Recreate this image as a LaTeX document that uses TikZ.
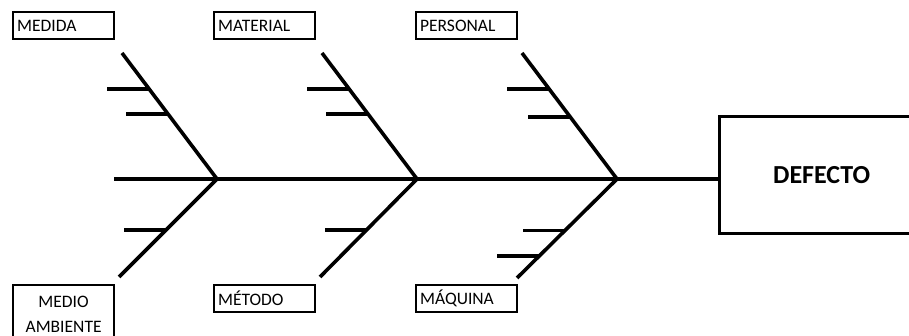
\documentclass[tikz,border=0pt]{standalone}
\usepackage{fontspec}
\setmainfont{Carlito}
\usetikzlibrary{calc}
\begin{document}
\begin{tikzpicture}[x=1pt,y=-1pt,
  bone/.style={line width=3.6pt},
  lbl/.style={draw, line width=2.2pt, anchor=north west, minimum width=101pt, minimum height=27pt,
    text width=93pt, inner xsep=4pt, inner ysep=0pt, align=left, font=\fontsize{17.5}{20}\selectfont},
  effect/.style={draw, line width=3.2pt, anchor=north west, minimum width=204pt, minimum height=117pt,
    font=\fontsize{26}{30}\selectfont\bfseries}]
\clip (0,0) rectangle (909,336);
\fill[white] (0,0) rectangle (909,336);
% labels
\node[lbl] (medida) at (12,11) {MEDIDA};
\node[lbl] (material) at (213,11) {MATERIAL};
\node[lbl] (personal) at (415,11) {PERSONAL};
\node[lbl, minimum height=58pt, align=center, font=\fontsize{17.5}{25}\selectfont] (medio) at (12,284) {MEDIO\\AMBIENTE};
\node[lbl] (metodo) at (213,284) {MÉTODO};
\node[lbl] (maquina) at (415,284) {MÁQUINA};
\node[effect] (defecto) at (718,115) {DEFECTO};
% spine
\coordinate (tail) at (114,179);
\coordinate (j1) at (217,179);
\coordinate (j2) at (417,179);
\coordinate (j3) at (617,179);
\draw[bone] (tail) -- (defecto.west |- tail);
% top bones
\coordinate (t1) at (122,53);
\coordinate (t2) at (322,53);
\coordinate (t3) at (522,53);
\draw[bone] (t1) -- (j1);
\draw[bone] (t2) -- (j2);
\draw[bone] (t3) -- (j3);
% bottom bones
\coordinate (b1) at (119,277);
\coordinate (b2) at (320,277);
\coordinate (b3) at (517,278);
\draw[bone] (j1) -- (b1);
\draw[bone] (j2) -- (b2);
\draw[bone] (j3) -- (b3);
% ribs top
\coordinate (r11) at ($(t1)!0.286!(j1)$);
\coordinate (r12) at ($(t1)!0.484!(j1)$);
\draw[bone] (r11) -- ++(-42,0);
\draw[bone] (r12) -- ++(-42,0);
\coordinate (r21) at ($(t2)!0.286!(j2)$);
\coordinate (r22) at ($(t2)!0.484!(j2)$);
\draw[bone] (r21) -- ++(-42,0);
\draw[bone] (r22) -- ++(-42,0);
\coordinate (r31) at ($(t3)!0.286!(j3)$);
\coordinate (r32) at ($(t3)!0.508!(j3)$);
\draw[bone] (r31) -- ++(-42,0);
\draw[bone] (r32) -- ++(-42,0);
% ribs bottom
\coordinate (s11) at ($(j1)!0.52!(b1)$);
\draw[bone] (s11) -- ++(-42,0);
\coordinate (s21) at ($(j2)!0.52!(b2)$);
\draw[bone] (s21) -- ++(-42,0);
\coordinate (s31) at ($(j3)!0.52!(b3)$);
\coordinate (s32) at ($(j3)!0.78!(b3)$);
\draw[bone] (s31) -- ++(-42,0);
\draw[bone] (s32) -- ++(-42,0);
\end{tikzpicture}
\end{document}
